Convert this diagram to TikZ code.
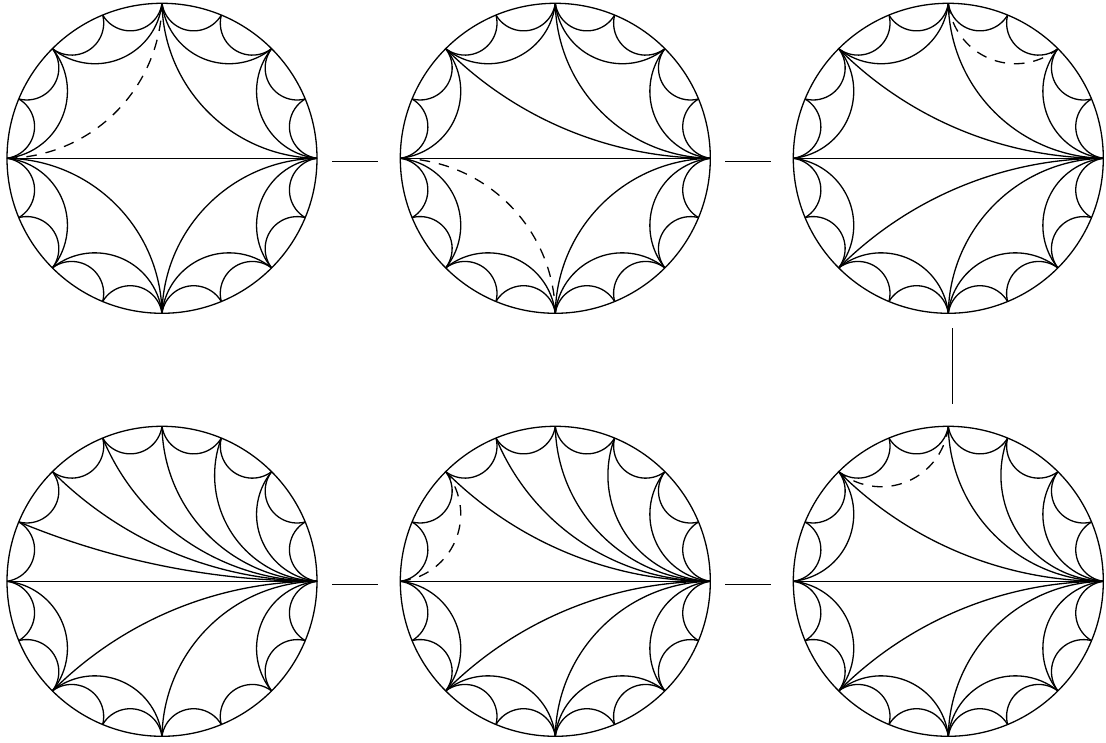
\documentclass[tikz,border=0pt]{standalone}
\usepackage{xcolor}
\usepackage{tikz}
\usetikzlibrary{positioning,calc}
\tikzset{
  disc/.style={draw,circle,line width=1.3pt,minimum size=310pt,inner sep=0pt,outer sep=0pt},
  chord/.style={line width=1.3pt},
  chord-flip/.style={line width=1.3pt,dash pattern=on 10.5pt off 9pt},
  link/.style={line width=1.3pt,shorten <=15pt,shorten >=22pt},
}
% arc between boundary points i and j of a disc
\newcommand{\geod}[4]{%
  \pgfmathsetmacro{\arcs}{#4>#3 ? 1 : -1}
  \pgfmathsetmacro{\arcm}{11.25*(#4+#3)}
  \pgfmathsetmacro{\arcn}{int(abs(#4-#3))}
  \pgfmathsetmacro{\arch}{90-11.25*\arcn-{8,6,2,1,0,0,0}[\arcn-1]}
  \pgfmathsetmacro{\arcr}{155*sin(11.25*\arcn)/sin(\arch)}
  \draw[#1] (#2-#3) arc[start angle=\arcm+180+\arcs*\arch,end angle=\arcm+180-\arcs*\arch,radius=\arcr];
}
\newcommand{\rim}{0/1,1/2,2/3,3/4,4/5,5/6,6/7,7/8,8/9,9/10,10/11,11/12,12/13,13/14,14/15,15/16}
\newcommand{\drawdisc}[4]{%
  \node[disc] (#1) at (#2) {};
  \foreach \k in {0,...,16} {\coordinate (#1-\k) at ($(#2)+(22.5*\k:155)$);}
  \draw[chord] (#1-0) -- (#1-8);
  \foreach \ci/\cj in \rim {\geod{chord}{#1}{\ci}{\cj}}
  \foreach \ci/\cj in {#3} {\geod{chord}{#1}{\ci}{\cj}}
  \foreach \ci/\cj in {#4} {\geod{chord-flip}{#1}{\ci}{\cj}}
}
\begin{document}
\begin{tikzpicture}[x=1pt,y=1pt]
  \useasboundingbox (0,0) rectangle (1106,743);
  \drawdisc{da}{162,584.7}{0/2,2/4,0/4,4/6,6/8,8/10,10/12,12/14,14/16,12/16,8/12}{8/4}
  \drawdisc{db}{555.3,584.7}{0/2,2/4,0/4,4/6,6/8,0/6,8/10,10/12,12/14,14/16,12/16}{8/12}
  \drawdisc{dc}{948.3,584.7}{0/2,0/4,4/6,6/8,0/6,8/10,10/12,12/14,14/16,12/16,10/16}{4/2}
  \drawdisc{dd}{162,161.7}{0/2,0/3,0/4,0/5,0/6,0/7,8/10,10/12,14/16,12/16,10/16}{}
  \drawdisc{de}{555.3,161.7}{0/2,0/3,0/4,0/5,0/6,8/10,10/12,12/14,14/16,12/16,10/16}{8/6}
  \drawdisc{df}{948.3,161.7}{0/2,0/3,0/4,0/6,6/8,8/10,10/12,12/14,14/16,12/16,10/16}{4/6}
  \draw[link] ([yshift=-3pt]da.east) -- ([yshift=-3pt]db.west);
  \draw[link] ([yshift=-3pt]db.east) -- ([yshift=-3pt]dc.west);
  \draw[link] ([xshift=4pt]dc.south) -- ([xshift=4pt]df.north);
  \draw[link] ([yshift=-3pt]dd.east) -- ([yshift=-3pt]de.west);
  \draw[link] ([yshift=-3pt]de.east) -- ([yshift=-3pt]df.west);
\end{tikzpicture}
\end{document}
